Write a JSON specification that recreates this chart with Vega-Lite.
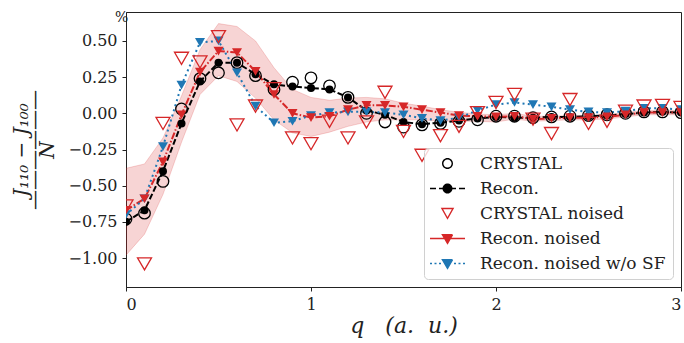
{
  "$schema": "https://vega.github.io/schema/vega-lite/v6.json",
  "width": 555,
  "height": 275,
  "autosize": "none",
  "padding": {"left": 126, "top": 12, "right": 3, "bottom": 56},
  "background": "white",
  "title": {"text": "%", "anchor": "start", "frame": "group", "offset": -13, "dx": -11, "fontSize": 14, "font": "DejaVu Serif", "fontWeight": "normal", "color": "#222"},
  "config": {
    "view": {"stroke": "#222", "strokeWidth": 1},
    "axis": {"grid": false, "domainColor": "#222", "tickColor": "#222", "labelColor": "#222", "titleColor": "#222", "labelFont": "DejaVu Serif", "labelFontSize": 16, "tickSize": 4, "labelPadding": 5}
  },
  "datasets": {
    "band": [
      {"q": 0, "value": -0.98, "hi": -0.38}, {"q": 0.1, "value": -0.835, "hi": -0.35}, {"q": 0.2, "value": -0.56, "hi": -0.17},
      {"q": 0.3, "value": -0.2, "hi": 0.12}, {"q": 0.4, "value": 0.13, "hi": 0.44}, {"q": 0.5, "value": 0.26, "hi": 0.62},
      {"q": 0.6, "value": 0.22, "hi": 0.6}, {"q": 0.7, "value": 0.105, "hi": 0.5}, {"q": 0.8, "value": -0.045, "hi": 0.315},
      {"q": 0.9, "value": -0.135, "hi": 0.165}, {"q": 1.0, "value": -0.16, "hi": 0.11}, {"q": 1.1, "value": -0.13, "hi": 0.09},
      {"q": 1.2, "value": -0.09, "hi": 0.105}, {"q": 1.3, "value": -0.06, "hi": 0.11}, {"q": 1.4, "value": -0.045, "hi": 0.1},
      {"q": 1.5, "value": -0.045, "hi": 0.07}, {"q": 1.6, "value": -0.045, "hi": 0.05}, {"q": 1.7, "value": -0.055, "hi": 0.025},
      {"q": 1.8, "value": -0.055, "hi": 0.007}, {"q": 1.9, "value": -0.055, "hi": -0.005}, {"q": 2.0, "value": -0.06, "hi": -0.01},
      {"q": 2.1, "value": -0.04, "hi": 0.0}, {"q": 2.2, "value": -0.055, "hi": -0.02}, {"q": 2.3, "value": -0.05, "hi": -0.02},
      {"q": 2.4, "value": -0.045, "hi": -0.015}, {"q": 2.5, "value": -0.045, "hi": -0.015}, {"q": 2.6, "value": -0.04, "hi": -0.01},
      {"q": 2.7, "value": -0.025, "hi": 0.005}, {"q": 2.8, "value": -0.01, "hi": 0.02}, {"q": 2.9, "value": -0.01, "hi": 0.02},
      {"q": 3.0, "value": -0.01, "hi": 0.02}
    ],
    "pts": [
      {"q": 0, "series": "CRYSTAL", "value": -0.73}, {"q": 0.1, "series": "CRYSTAL", "value": -0.69}, {"q": 0.2, "series": "CRYSTAL", "value": -0.47},
      {"q": 0.3, "series": "CRYSTAL", "value": 0.03}, {"q": 0.4, "series": "CRYSTAL", "value": 0.24}, {"q": 0.5, "series": "CRYSTAL", "value": 0.28},
      {"q": 0.6, "series": "CRYSTAL", "value": 0.35}, {"q": 0.7, "series": "CRYSTAL", "value": 0.26}, {"q": 0.8, "series": "CRYSTAL", "value": 0.165},
      {"q": 0.9, "series": "CRYSTAL", "value": 0.215}, {"q": 1.0, "series": "CRYSTAL", "value": 0.245}, {"q": 1.1, "series": "CRYSTAL", "value": 0.19},
      {"q": 1.2, "series": "CRYSTAL", "value": 0.11}, {"q": 1.3, "series": "CRYSTAL", "value": 0.0}, {"q": 1.4, "series": "CRYSTAL", "value": -0.06},
      {"q": 1.5, "series": "CRYSTAL", "value": -0.095}, {"q": 1.6, "series": "CRYSTAL", "value": -0.08}, {"q": 1.7, "series": "CRYSTAL", "value": -0.07},
      {"q": 1.8, "series": "CRYSTAL", "value": -0.055}, {"q": 1.9, "series": "CRYSTAL", "value": -0.045}, {"q": 2.0, "series": "CRYSTAL", "value": -0.02},
      {"q": 2.1, "series": "CRYSTAL", "value": -0.02}, {"q": 2.2, "series": "CRYSTAL", "value": -0.03}, {"q": 2.3, "series": "CRYSTAL", "value": -0.025},
      {"q": 2.4, "series": "CRYSTAL", "value": -0.02}, {"q": 2.5, "series": "CRYSTAL", "value": -0.015}, {"q": 2.6, "series": "CRYSTAL", "value": -0.01},
      {"q": 2.7, "series": "CRYSTAL", "value": 0.0}, {"q": 2.8, "series": "CRYSTAL", "value": 0.01}, {"q": 2.9, "series": "CRYSTAL", "value": 0.01},
      {"q": 3.0, "series": "CRYSTAL", "value": 0.005},

      {"q": 0, "series": "Recon.", "value": -0.75}, {"q": 0.1, "series": "Recon.", "value": -0.67}, {"q": 0.2, "series": "Recon.", "value": -0.4},
      {"q": 0.3, "series": "Recon.", "value": -0.07}, {"q": 0.4, "series": "Recon.", "value": 0.22}, {"q": 0.5, "series": "Recon.", "value": 0.35},
      {"q": 0.6, "series": "Recon.", "value": 0.35}, {"q": 0.7, "series": "Recon.", "value": 0.27}, {"q": 0.8, "series": "Recon.", "value": 0.2},
      {"q": 0.9, "series": "Recon.", "value": 0.185}, {"q": 1.0, "series": "Recon.", "value": 0.175}, {"q": 1.1, "series": "Recon.", "value": 0.165},
      {"q": 1.2, "series": "Recon.", "value": 0.11}, {"q": 1.3, "series": "Recon.", "value": 0.02}, {"q": 1.4, "series": "Recon.", "value": -0.01},
      {"q": 1.5, "series": "Recon.", "value": -0.06}, {"q": 1.6, "series": "Recon.", "value": -0.075}, {"q": 1.7, "series": "Recon.", "value": -0.065},
      {"q": 1.8, "series": "Recon.", "value": -0.05}, {"q": 1.9, "series": "Recon.", "value": -0.035}, {"q": 2.0, "series": "Recon.", "value": -0.025},
      {"q": 2.1, "series": "Recon.", "value": -0.03}, {"q": 2.2, "series": "Recon.", "value": -0.03}, {"q": 2.3, "series": "Recon.", "value": -0.025},
      {"q": 2.4, "series": "Recon.", "value": -0.025}, {"q": 2.5, "series": "Recon.", "value": -0.02}, {"q": 2.6, "series": "Recon.", "value": -0.015},
      {"q": 2.7, "series": "Recon.", "value": -0.005}, {"q": 2.8, "series": "Recon.", "value": 0.005}, {"q": 2.9, "series": "Recon.", "value": 0.01},
      {"q": 3.0, "series": "Recon.", "value": 0.005},

      {"q": 0, "series": "CRYSTAL noised", "value": -0.64}, {"q": 0.1, "series": "CRYSTAL noised", "value": -1.04}, {"q": 0.2, "series": "CRYSTAL noised", "value": -0.07},
      {"q": 0.3, "series": "CRYSTAL noised", "value": 0.38}, {"q": 0.4, "series": "CRYSTAL noised", "value": 0.355}, {"q": 0.5, "series": "CRYSTAL noised", "value": 0.53},
      {"q": 0.6, "series": "CRYSTAL noised", "value": -0.08}, {"q": 0.7, "series": "CRYSTAL noised", "value": 0.05}, {"q": 0.8, "series": "CRYSTAL noised", "value": 0.17},
      {"q": 0.9, "series": "CRYSTAL noised", "value": -0.17}, {"q": 1.0, "series": "CRYSTAL noised", "value": -0.21}, {"q": 1.1, "series": "CRYSTAL noised", "value": -0.055},
      {"q": 1.2, "series": "CRYSTAL noised", "value": -0.17}, {"q": 1.3, "series": "CRYSTAL noised", "value": -0.06}, {"q": 1.4, "series": "CRYSTAL noised", "value": 0.145},
      {"q": 1.5, "series": "CRYSTAL noised", "value": -0.125}, {"q": 1.6, "series": "CRYSTAL noised", "value": -0.29}, {"q": 1.7, "series": "CRYSTAL noised", "value": -0.155},
      {"q": 1.8, "series": "CRYSTAL noised", "value": -0.09}, {"q": 1.9, "series": "CRYSTAL noised", "value": 0.005}, {"q": 2.0, "series": "CRYSTAL noised", "value": 0.075},
      {"q": 2.1, "series": "CRYSTAL noised", "value": 0.13}, {"q": 2.2, "series": "CRYSTAL noised", "value": -0.04}, {"q": 2.3, "series": "CRYSTAL noised", "value": -0.14},
      {"q": 2.4, "series": "CRYSTAL noised", "value": 0.095}, {"q": 2.5, "series": "CRYSTAL noised", "value": -0.07}, {"q": 2.6, "series": "CRYSTAL noised", "value": -0.055},
      {"q": 2.7, "series": "CRYSTAL noised", "value": 0.015}, {"q": 2.8, "series": "CRYSTAL noised", "value": 0.05}, {"q": 2.9, "series": "CRYSTAL noised", "value": 0.055},
      {"q": 3.0, "series": "CRYSTAL noised", "value": 0.04},

      {"q": 0, "series": "Recon. noised", "value": -0.67}, {"q": 0.1, "series": "Recon. noised", "value": -0.59}, {"q": 0.2, "series": "Recon. noised", "value": -0.335},
      {"q": 0.3, "series": "Recon. noised", "value": -0.01}, {"q": 0.4, "series": "Recon. noised", "value": 0.285}, {"q": 0.5, "series": "Recon. noised", "value": 0.43},
      {"q": 0.6, "series": "Recon. noised", "value": 0.42}, {"q": 0.7, "series": "Recon. noised", "value": 0.29}, {"q": 0.8, "series": "Recon. noised", "value": 0.13},
      {"q": 0.9, "series": "Recon. noised", "value": 0.0}, {"q": 1.0, "series": "Recon. noised", "value": -0.03}, {"q": 1.1, "series": "Recon. noised", "value": -0.02},
      {"q": 1.2, "series": "Recon. noised", "value": 0.025}, {"q": 1.3, "series": "Recon. noised", "value": 0.055}, {"q": 1.4, "series": "Recon. noised", "value": 0.055},
      {"q": 1.5, "series": "Recon. noised", "value": 0.045}, {"q": 1.6, "series": "Recon. noised", "value": 0.025}, {"q": 1.7, "series": "Recon. noised", "value": 0.005},
      {"q": 1.8, "series": "Recon. noised", "value": -0.015}, {"q": 1.9, "series": "Recon. noised", "value": -0.02}, {"q": 2.0, "series": "Recon. noised", "value": -0.025},
      {"q": 2.1, "series": "Recon. noised", "value": -0.02}, {"q": 2.2, "series": "Recon. noised", "value": -0.04}, {"q": 2.3, "series": "Recon. noised", "value": -0.035},
      {"q": 2.4, "series": "Recon. noised", "value": -0.03}, {"q": 2.5, "series": "Recon. noised", "value": -0.03}, {"q": 2.6, "series": "Recon. noised", "value": -0.025},
      {"q": 2.7, "series": "Recon. noised", "value": -0.01}, {"q": 2.8, "series": "Recon. noised", "value": 0.005}, {"q": 2.9, "series": "Recon. noised", "value": 0.005},
      {"q": 3.0, "series": "Recon. noised", "value": 0.005},

      {"q": 0, "series": "Recon. noised w/o SF", "value": -0.7}, {"q": 0.1, "series": "Recon. noised w/o SF", "value": -0.59}, {"q": 0.2, "series": "Recon. noised w/o SF", "value": -0.23},
      {"q": 0.3, "series": "Recon. noised w/o SF", "value": 0.195}, {"q": 0.4, "series": "Recon. noised w/o SF", "value": 0.49}, {"q": 0.5, "series": "Recon. noised w/o SF", "value": 0.5},
      {"q": 0.6, "series": "Recon. noised w/o SF", "value": 0.28}, {"q": 0.7, "series": "Recon. noised w/o SF", "value": 0.05}, {"q": 0.8, "series": "Recon. noised w/o SF", "value": -0.065},
      {"q": 0.9, "series": "Recon. noised w/o SF", "value": -0.055}, {"q": 1.0, "series": "Recon. noised w/o SF", "value": -0.015}, {"q": 1.1, "series": "Recon. noised w/o SF", "value": 0.005},
      {"q": 1.2, "series": "Recon. noised w/o SF", "value": 0.01}, {"q": 1.3, "series": "Recon. noised w/o SF", "value": 0.01}, {"q": 1.4, "series": "Recon. noised w/o SF", "value": 0.005},
      {"q": 1.5, "series": "Recon. noised w/o SF", "value": -0.01}, {"q": 1.6, "series": "Recon. noised w/o SF", "value": -0.035}, {"q": 1.7, "series": "Recon. noised w/o SF", "value": -0.05},
      {"q": 1.8, "series": "Recon. noised w/o SF", "value": -0.03}, {"q": 1.9, "series": "Recon. noised w/o SF", "value": 0.02}, {"q": 2.0, "series": "Recon. noised w/o SF", "value": 0.06},
      {"q": 2.1, "series": "Recon. noised w/o SF", "value": 0.075}, {"q": 2.2, "series": "Recon. noised w/o SF", "value": 0.06}, {"q": 2.3, "series": "Recon. noised w/o SF", "value": 0.045},
      {"q": 2.4, "series": "Recon. noised w/o SF", "value": 0.025}, {"q": 2.5, "series": "Recon. noised w/o SF", "value": 0.01}, {"q": 2.6, "series": "Recon. noised w/o SF", "value": 0.005},
      {"q": 2.7, "series": "Recon. noised w/o SF", "value": 0.015}, {"q": 2.8, "series": "Recon. noised w/o SF", "value": 0.035}, {"q": 2.9, "series": "Recon. noised w/o SF", "value": 0.035},
      {"q": 3.0, "series": "Recon. noised w/o SF", "value": 0.025}
    ]
  },
  "encoding": {
    "x": {"field": "q", "type": "quantitative", "scale": {"domain": [0, 3], "nice": false},
          "axis": {"values": [0, 1, 2, 3], "format": "d", "title": "q\u00a0\u00a0\u00a0(a.\u00a0\u00a0u.)", "titleFont": "DejaVu Serif", "titleFontStyle": "italic", "titleFontSize": 22, "titleFontWeight": "normal", "titlePadding": 3}},
    "y": {"field": "value", "type": "quantitative", "scale": {"domain": [-1.2, 0.7], "nice": false, "zero": false},
          "axis": {"values": [-1, -0.75, -0.5, -0.25, 0, 0.25, 0.5], "format": ".2f", "title": ["J₁₁₀ − J₁₀₀", "——————", "N"], "titleFont": "DejaVu Serif", "titleFontStyle": "italic", "titleFontSize": 20, "titleFontWeight": "normal", "titleLineHeight": 13, "titlePadding": 10}}
  },
  "layer": [
    {
      "data": {"name": "band"},
      "mark": {"type": "area", "fill": "#d62728", "fillOpacity": 0.2, "stroke": "#d62728", "strokeOpacity": 0.2, "strokeWidth": 1, "clip": true},
      "encoding": {"y2": {"field": "hi"}}
    },
    {
      "data": {"name": "pts"},
      "transform": [{"filter": "datum.series === 'Recon.'"}],
      "mark": {"type": "line", "strokeDash": [6, 2.5], "strokeWidth": 2, "clip": true},
      "encoding": {
        "color": {"field": "series", "type": "nominal",
          "scale": {"domain": ["CRYSTAL", "Recon.", "CRYSTAL noised", "Recon. noised", "Recon. noised w/o SF"], "range": ["black", "black", "#d62728", "#d62728", "#1f77b4"]},
          "legend": {
            "orient": "bottom-right", "offset": 8, "title": null,
            "labelFont": "DejaVu Serif", "labelFontSize": 17, "labelColor": "#222", "labelLimit": 400,
            "symbolSize": 100, "symbolStrokeWidth": 1.5,
            "padding": 7, "rowPadding": 7, "symbolOffset": 8, "labelOffset": 24,
            "strokeColor": "#d0d0d0", "fillColor": "rgba(255,255,255,0.8)", "cornerRadius": 4,
            "encode": {"symbols": {"update": {
              "shape": {"signal": "datum.value === 'CRYSTAL' ? 'M1.1,0A1.1,1.1,0,1,1,-1.1,0A1.1,1.1,0,1,1,1.1,0ZM0.82,0A0.82,0.82,0,1,0,-0.82,0A0.82,0.82,0,1,0,0.82,0Z' : datum.value === 'Recon.' ? 'M-3.5,0H-2.3M-1.7,0H1.7M2.3,0H3.5M0.85,0A0.85,0.85,0,1,0,-0.85,0A0.85,0.85,0,1,0,0.85,0Z' : datum.value === 'CRYSTAL noised' ? 'M-1.35,-1.15L1.35,-1.15L0,1.25ZM-0.871,-0.87L0,0.678L0.871,-0.87Z' : datum.value === 'Recon. noised' ? 'M-3.5,0H3.5M-1,-0.75H1L0,0.95Z' : 'M-3.5,0H-3.1M-2.6,0H-2.2M-1.7,0H-1.3M1.3,0H1.7M2.2,0H2.6M3.1,0H3.5M-1,-0.75H1L0,0.95Z'"},
              "fill": {"signal": "datum.value === 'CRYSTAL' || datum.value === 'Recon.' ? 'black' : datum.value === 'Recon. noised w/o SF' ? '#1f77b4' : '#d62728'"},
              "stroke": {"signal": "datum.value === 'CRYSTAL' || datum.value === 'Recon.' ? 'black' : datum.value === 'Recon. noised w/o SF' ? '#1f77b4' : '#d62728'"},
              "strokeWidth": {"signal": "datum.value === 'CRYSTAL' || datum.value === 'CRYSTAL noised' ? 0 : 1.5"},
              "strokeDash": {"value": [1, 0]},
              "opacity": {"value": 1},
              "fillOpacity": {"value": 1},
              "strokeOpacity": {"value": 1}
            }}}
          }
        }
      }
    },
    {
      "data": {"name": "pts"},
      "transform": [{"filter": "datum.series === 'Recon. noised'"}],
      "mark": {"type": "line", "strokeDash": [7, 2, 1.5, 2], "strokeWidth": 2, "clip": true},
      "encoding": {"color": {"field": "series", "type": "nominal"}}
    },
    {
      "data": {"name": "pts"},
      "transform": [{"filter": "datum.series === 'Recon. noised w/o SF'"}],
      "mark": {"type": "line", "strokeDash": [2, 3.3], "strokeWidth": 2, "clip": true},
      "encoding": {"color": {"field": "series", "type": "nominal"}}
    },
    {
      "data": {"name": "pts"},
      "transform": [{"filter": "datum.series === 'CRYSTAL'"}],
      "mark": {"type": "point", "shape": "circle", "filled": false, "size": 133, "strokeWidth": 1.3, "opacity": 1, "clip": true},
      "encoding": {"color": {"field": "series", "type": "nominal"}}
    },
    {
      "data": {"name": "pts"},
      "transform": [{"filter": "datum.series === 'Recon.'"}],
      "mark": {"type": "point", "shape": "circle", "filled": true, "size": 64, "opacity": 1, "clip": true},
      "encoding": {"color": {"field": "series", "type": "nominal"}}
    },
    {
      "data": {"name": "pts"},
      "transform": [{"filter": "datum.series === 'Recon. noised w/o SF'"}],
      "mark": {"type": "point", "shape": "triangle-down", "filled": true, "size": 100, "opacity": 1, "clip": true},
      "encoding": {"color": {"field": "series", "type": "nominal"}}
    },
    {
      "data": {"name": "pts"},
      "transform": [{"filter": "datum.series === 'CRYSTAL noised'"}],
      "mark": {"type": "point", "shape": "triangle-down", "filled": false, "size": 196, "strokeWidth": 1.3, "opacity": 1, "clip": true},
      "encoding": {"color": {"field": "series", "type": "nominal"}}
    },
    {
      "data": {"name": "pts"},
      "transform": [{"filter": "datum.series === 'Recon. noised'"}],
      "mark": {"type": "point", "shape": "triangle-down", "filled": true, "size": 100, "opacity": 1, "clip": true},
      "encoding": {"color": {"field": "series", "type": "nominal"}}
    }
  ]
}
